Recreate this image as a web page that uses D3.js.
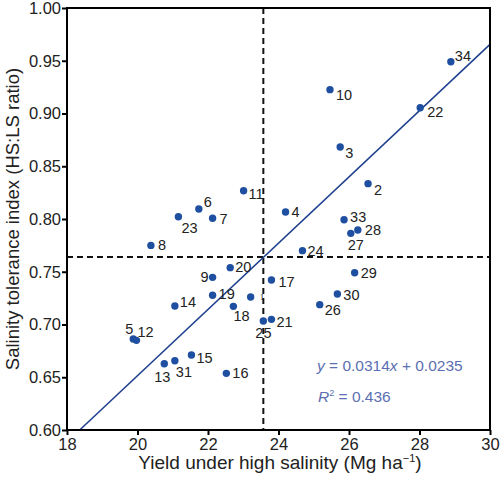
<!DOCTYPE html>
<html>
<head>
<meta charset="utf-8">
<script src="https://cdn.jsdelivr.net/npm/d3@7"></script>
<style>
  html, body { margin: 0; padding: 0; background: #fff; }
  svg { display: block; font-family: "Liberation Sans", Arial, sans-serif; }
</style>
</head>
<body>
<svg id="chart" width="500" height="478"></svg>
<script>
// Data
const ids = [1,2,3,4,5,6,7,8,9,10,11,12,13,14,15,16,17,18,19,20,21,22,23,24,25,26,27,28,29,30,31,33,34];
const xs  = [23.21,26.54,25.75,24.20,19.88,21.74,22.13,20.38,22.13,25.46,23.01,19.97,20.76,21.06,21.53,22.52,23.80,22.72,22.13,22.63,23.80,28.02,21.16,24.68,23.57,25.17,26.05,26.25,26.16,25.67,21.06,25.86,28.89];
const ys  = [0.7261,0.8335,0.8682,0.8066,0.6863,0.8095,0.8007,0.7750,0.7447,0.9226,0.8268,0.6850,0.6628,0.7175,0.6711,0.6537,0.7422,0.7172,0.7277,0.7539,0.7049,0.9055,0.8022,0.7700,0.7033,0.7188,0.7864,0.7896,0.7491,0.7289,0.6657,0.7993,0.9490];
// label offsets (dx, dy) relative to each point
const ldx = [9,6,5,6,-8,5,7,7,-4,6,5,1,-10,5,5,6,7,0,6,5,5,7,3,5,-8,5,-3,7,6,6,1,6,4];
const ldy = [3,11,11,5,-5,-2,6,5,5,10,8,-3,18,1,8,5,7,15,4,4,8,9,16,5,17,10,17,5,5,6,16,2,-1];
const xTicks = [18,20,22,24,26,28,30];
const yTicks = [0.60,0.65,0.70,0.75,0.80,0.85,0.90,0.95,1.00];
const slope = 0.0314, intercept = 0.0235, r2 = 0.436;
const meanX = 23.57, meanY = 0.764;

const svg = d3.select("#chart");
const L = 67, R = 490, T = 8, B = 430;
const x = d3.scaleLinear().domain([18, 30]).range([L, R]);
const y = d3.scaleLinear().domain([0.60, 1.00]).range([B, T]);

const ptColor = "#1f4fa0", lineColor = "#1d3f8e", eqColor = "#5b6fb2";
const font = '"Liberation Sans", Arial, sans-serif';

svg.append("defs").append("clipPath").attr("id", "plotclip")
  .append("rect").attr("x", L).attr("y", T).attr("width", R - L).attr("height", B - T);

// dashed mean lines
svg.append("line").attr("x1", x(meanX)).attr("x2", x(meanX)).attr("y1", T).attr("y2", B)
  .attr("stroke", "#111").attr("stroke-width", 2).attr("stroke-dasharray", "6,4");
svg.append("line").attr("x1", L).attr("x2", R).attr("y1", y(meanY)).attr("y2", y(meanY))
  .attr("stroke", "#111").attr("stroke-width", 2).attr("stroke-dasharray", "6,4");

// regression line
const x0 = (0.60 - intercept) / slope;
svg.append("line")
  .attr("clip-path", "url(#plotclip)")
  .attr("x1", x(x0)).attr("y1", y(slope * x0 + intercept))
  .attr("x2", x(30)).attr("y2", y(slope * 30 + intercept))
  .attr("stroke", lineColor).attr("stroke-width", 1.5);

// axes
const xAxis = svg.append("g").attr("transform", `translate(0,${B})`)
  .call(d3.axisBottom(x).tickValues(xTicks).tickSize(5).tickPadding(3).tickFormat(d3.format("d")));
const yAxis = svg.append("g").attr("transform", `translate(${L},0)`)
  .call(d3.axisLeft(y).tickValues(yTicks).tickSize(5).tickPadding(1).tickFormat(d3.format(".2f")));
[xAxis, yAxis].forEach(g => {
  g.select(".domain").remove();
  g.selectAll(".tick line").attr("stroke", "#000").attr("stroke-width", 2);
  g.selectAll(".tick text").attr("fill", "#222").style("font-size", "16.5px").style("font-family", font);
});

// frame
svg.append("rect").attr("x", L).attr("y", T).attr("width", R - L).attr("height", B - T)
  .attr("fill", "none").attr("stroke", "#000").attr("stroke-width", 2);

// points
const data = ids.map((id, i) => ({ id, x: xs[i], y: ys[i], dx: ldx[i], dy: ldy[i] }));
svg.append("g").selectAll("circle").data(data).join("circle")
  .attr("cx", d => x(d.x)).attr("cy", d => y(d.y)).attr("r", 3.7).attr("fill", ptColor);

// labels
svg.append("g").selectAll("text").data(data).join("text")
  .attr("x", d => x(d.x) + d.dx).attr("y", d => y(d.y) + d.dy)
  .attr("text-anchor", d => d.id === 9 ? "end" : "start")
  .style("font-size", d => d.id === 1 ? "9px" : "14.5px")
  .style("font-family", d => d.id === 1 ? '"Liberation Serif", serif' : null)
  .attr("fill", "#222")
  .text(d => d.id);

// equation
const eq = svg.append("text").attr("x", 317).attr("y", 371).attr("fill", eqColor).style("font-size", "15.5px");
eq.append("tspan").style("font-style", "italic").text("y");
eq.append("tspan").text(` = ${slope}`);
eq.append("tspan").style("font-style", "italic").text("x");
eq.append("tspan").text(` + ${intercept}`);
const rt = svg.append("text").attr("x", 318).attr("y", 402).attr("fill", eqColor).style("font-size", "15.5px");
rt.append("tspan").style("font-style", "italic").text("R");
rt.append("tspan").attr("dy", -6).style("font-size", "9px").text("2");
rt.append("tspan").attr("dy", 6).text(` = ${r2}`);

// axis titles
const xt = svg.append("text").attr("x", 280).attr("y", 469).attr("text-anchor", "middle")
  .attr("fill", "#222").style("font-size", "19px");
xt.append("tspan").text("Yield under high salinity (Mg ha");
xt.append("tspan").attr("dy", -7).style("font-size", "11px").text("\u22121");
xt.append("tspan").attr("dy", 7).text(")");

svg.append("text").attr("transform", `translate(19,${(T + B) / 2}) rotate(-90)`)
  .attr("text-anchor", "middle").attr("fill", "#222").style("font-size", "18.5px")
  .text("Salinity tolerance index (HS:LS ratio)");
</script>
</body>
</html>
